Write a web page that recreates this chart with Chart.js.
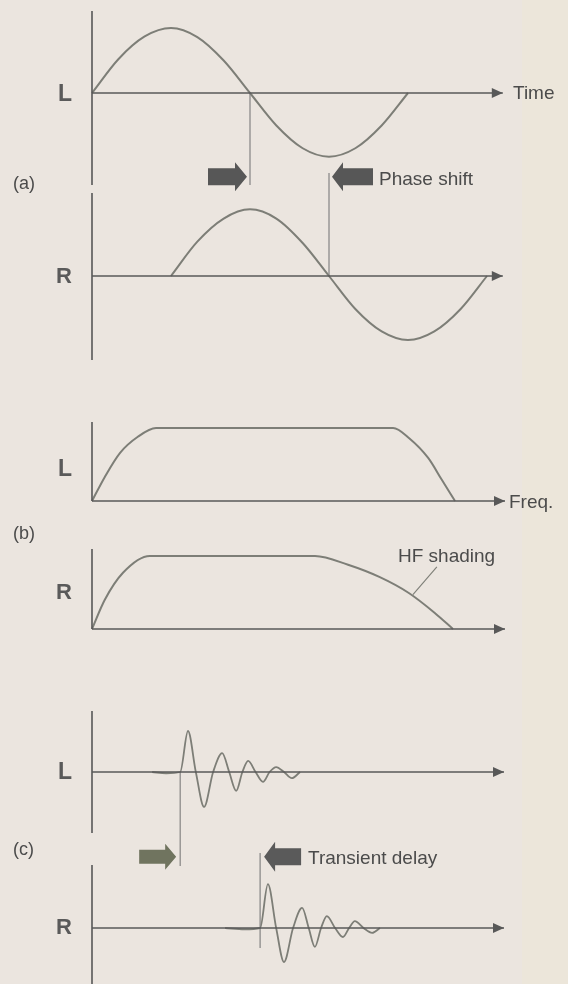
<!DOCTYPE html>
<html>
<head>
<meta charset="utf-8">
<script src="https://cdn.jsdelivr.net/npm/chart.js@4.4.1/dist/chart.umd.min.js"></script>
<style>
    html, body { margin: 0; padding: 0; }
    body {
        width: 568px; height: 984px; position: relative; overflow: hidden;
        background: #ebe5df;
        font-family: "Liberation Sans", Arial, sans-serif;
    }
    #strip { position: absolute; left: 522px; top: 0; width: 46px; height: 984px; background: #ece6da; }
    canvas { position: absolute; left: 0; }
    .lbl { position: absolute; white-space: nowrap; color: #4b4b4b; line-height: 1; }
</style>
</head>
<body>
<div id="strip"></div>
<script>
// (a) phase shift: x in degrees, y = relative amplitude
const phaseDegL = [0, 30, 60, 90, 120, 150, 180, 210, 240, 270, 300, 330, 360];
const phaseAmpL = [0, 0.52, 0.87, 1.0, 0.86, 0.5, 0, -0.5, -0.85, -0.98, -0.85, -0.5, 0];
const phaseDegR = [90, 120, 150, 180, 210, 240, 270, 300, 330, 360, 390, 420, 450];
const phaseAmpR = [0, 0.52, 0.87, 1.01, 0.87, 0.5, 0, -0.5, -0.84, -0.97, -0.84, -0.5, 0];
const phaseMarkers = [180, 270];   // zero crossing of L, of R
const timeAxisEnd = 468;

// (b) frequency response: x in % of the band, y = relative level
const freqL = [0, 3.1, 6.8, 11.1, 15.5, 72.9, 76.8, 81.4, 84.7, 87.9];
const levelL = [0, 0.33, 0.66, 0.88, 1, 1, 0.86, 0.59, 0.29, 0];
const freqR = [0, 3.1, 7.5, 14, 54, 62, 69.7, 76.8, 83, 87.4];
const levelR = [0, 0.4, 0.77, 1, 1, 0.88, 0.71, 0.49, 0.22, 0];
const freqAxisEnd = 100;

// (c) transient: x = time, y = relative amplitude
const timeL = [14.6, 18, 21.4, 23.3, 25.2, 27.2, 29.4, 31.6, 33.3, 35, 36.5, 37.9, 39.7, 41.5, 43.1, 44.7, 46.6, 48.5, 50.5];
const ringL = [0, -0.03, 0, 1, 0, -0.85, 0, 0.46, 0, -0.46, 0, 0.27, 0, -0.24, 0, 0.12, 0, -0.15, 0];
const timeR = [32.3, 37, 40.8, 42.7, 44.7, 46.6, 48.8, 51, 52.6, 54.1, 55.6, 57, 59, 60.9, 62.4, 63.8, 65.9, 68, 69.9];
const ringR = [0, -0.03, 0, 1.07, 0, -0.83, 0, 0.49, 0, -0.46, 0, 0.29, 0, -0.22, 0, 0.17, 0, -0.12, 0];
const transientMarkers = [21.4, 40.8];  // onset of L, of R
const transientAxisEnd = 100;

const AXIS = '#585858';
const CURVE = '#7d7e77';
const MARK = '#7b7b7b';

function pts(xs, ys) {
    return xs.map((x, i) => ({ x: x, y: ys[i] }));
}

function line(data, color, width, smooth) {
    return {
        data: data,
        borderColor: color,
        borderWidth: width,
        pointRadius: 0,
        fill: false,
        clip: false,
        tension: 0,
        cubicInterpolationMode: smooth ? 'monotone' : 'default'
    };
}

// arrowhead on the baseline + block arrows next to the markers
const decor = {
    id: 'decor',
    afterDatasetsDraw(chart, args, opts) {
        const ctx = chart.ctx;
        const xs = chart.scales.x, ys = chart.scales.y;
        ctx.save();
        if (opts.arrowEnd != null) {
            const tx = xs.getPixelForValue(opts.arrowEnd), ty = ys.getPixelForValue(0);
            ctx.fillStyle = AXIS;
            ctx.beginPath();
            ctx.moveTo(tx, ty);
            ctx.lineTo(tx - 11, ty - 5);
            ctx.lineTo(tx - 11, ty + 5);
            ctx.closePath();
            ctx.fill();
        }
        (opts.blocks || []).forEach(b => {
            const s = b.dir === 'right' ? 1 : -1;
            const tip = xs.getPixelForValue(b.at) - s * b.gap;
            const cy = ys.getPixelForValue(b.y);
            const h = tip - s * b.head, e = h - s * b.body;
            ctx.fillStyle = b.color;
            ctx.beginPath();
            ctx.moveTo(tip, cy);
            ctx.lineTo(h, cy - b.hh);
            ctx.lineTo(h, cy - b.bh);
            ctx.lineTo(e, cy - b.bh);
            ctx.lineTo(e, cy + b.bh);
            ctx.lineTo(h, cy + b.bh);
            ctx.lineTo(h, cy + b.hh);
            ctx.closePath();
            ctx.fill();
        });
        ctx.restore();
    }
};

// one L or R panel; x = 0 sits on the vertical axis at 92px
function panel(cfg) {
    const c = document.createElement('canvas');
    c.width = 568;
    c.height = cfg.h;
    c.style.top = cfg.top + 'px';
    document.body.appendChild(c);

    new Chart(c, {
        type: 'line',
        data: { datasets: cfg.datasets },
        options: {
            responsive: false,
            animation: false,
            devicePixelRatio: 1,
            layout: { padding: 0 },
            scales: {
                x: { type: 'linear', display: false, min: -92 / cfg.ppx, max: (568 - 92) / cfg.ppx },
                y: { type: 'linear', display: false,
                     min: -(cfg.top + cfg.h - cfg.base) / cfg.ppy, max: (cfg.base - cfg.top) / cfg.ppy }
            },
            plugins: { legend: { display: false }, tooltip: { enabled: false }, decor: cfg.decor || {} },
            events: []
        },
        plugins: [decor]
    });
}

function axes(yTop, yBottom, xEnd) {
    return [
        line([{ x: 0, y: yTop }, { x: 0, y: yBottom }], AXIS, 1.6, false),
        line([{ x: 0, y: 0 }, { x: xEnd, y: 0 }], AXIS, 1.6, false)
    ];
}

function marker(x, y1, y2) {
    return line([{ x: x, y: y1 }, { x: x, y: y2 }], MARK, 1.1, false);
}

// ---- (a) ----
const degPx = 158 / 180;
panel({
    top: 0, h: 200, base: 93, ppx: degPx, ppy: 65,
    datasets: [
        ...axes(1.262, -1.415, timeAxisEnd),
        marker(phaseMarkers[0], 0, -1.415),
        line(pts(phaseDegL, phaseAmpL), CURVE, 2, true)
    ],
    decor: {
        arrowEnd: timeAxisEnd,
        blocks: [
            { at: phaseMarkers[0], dir: 'right', gap: 3, head: 12, body: 27, bh: 8.5, hh: 14.5, y: -1.29, color: '#575757' },
            { at: phaseMarkers[1], dir: 'left', gap: 3, head: 11, body: 30, bh: 8.5, hh: 14.5, y: -1.29, color: '#575757' }
        ]
    }
});
panel({
    top: 160, h: 210, base: 276, ppx: degPx, ppy: 66,
    datasets: [
        ...axes(1.258, -1.273, timeAxisEnd),
        marker(phaseMarkers[1], 1.56, 0),
        line(pts(phaseDegR, phaseAmpR), CURVE, 2, true)
    ],
    decor: { arrowEnd: timeAxisEnd }
});

// ---- (b) ----
const freqPx = (505 - 92) / 100;
panel({
    top: 400, h: 120, base: 501, ppx: freqPx, ppy: 73,
    datasets: [
        ...axes(1.082, 0, freqAxisEnd),
        line(pts(freqL, levelL), CURVE, 2, true)
    ],
    decor: { arrowEnd: freqAxisEnd }
});
panel({
    top: 530, h: 120, base: 629, ppx: freqPx, ppy: 73,
    datasets: [
        ...axes(1.096, 0, freqAxisEnd),
        line(pts(freqR, levelR), CURVE, 2, true),
        line([{ x: 83.5, y: 0.85 }, { x: 77.7, y: 0.47 }], '#7d7e77', 1.1, false)
    ],
    decor: { arrowEnd: freqAxisEnd }
});

// ---- (c) ----
const tPx = (504 - 92) / 100;
panel({
    top: 690, h: 190, base: 772, ppx: tPx, ppy: 41,
    datasets: [
        ...axes(1.488, -1.488, transientAxisEnd),
        marker(transientMarkers[0], 0, -2.29),
        line(pts(timeL, ringL), CURVE, 1.8, true)
    ],
    decor: {
        arrowEnd: transientAxisEnd,
        blocks: [
            { at: transientMarkers[0], dir: 'right', gap: 4, head: 11, body: 26, bh: 7, hh: 13, y: -2.07, color: '#70745f' },
            { at: transientMarkers[1], dir: 'left', gap: 4, head: 11, body: 26, bh: 8.5, hh: 15, y: -2.07, color: '#5a5a5a' }
        ]
    }
});
panel({
    top: 840, h: 144, base: 928, ppx: tPx, ppy: 41,
    datasets: [
        ...axes(1.537, -1.4, transientAxisEnd),
        marker(transientMarkers[1], 1.83, -0.49),
        line(pts(timeR, ringR), CURVE, 1.8, true)
    ],
    decor: { arrowEnd: transientAxisEnd }
});

// ---- text ----
function label(text, x, cy, size, bold, color) {
    const d = document.createElement('div');
    d.className = 'lbl';
    d.textContent = text;
    d.style.left = x + 'px';
    d.style.top = (cy - size * 0.5) + 'px';
    d.style.fontSize = size + 'px';
    if (bold) d.style.fontWeight = 'bold';
    if (color) d.style.color = color;
    document.body.appendChild(d);
}

label('L', 58, 93, 23, true, '#5a5a5a');
label('R', 56, 276, 22, true, '#5a5a5a');
label('L', 58, 468, 23, true, '#5a5a5a');
label('R', 56, 592, 22, true, '#5a5a5a');
label('L', 58, 771, 23, true, '#5a5a5a');
label('R', 56, 927, 22, true, '#5a5a5a');

label('(a)', 13, 183, 18);
label('(b)', 13, 533, 18);
label('(c)', 13, 849, 18);

label('Time', 513, 92, 19);
label('Phase shift', 379, 178, 19);
label('Freq.', 509, 501, 19);
label('HF shading', 398, 555, 19);
label('Transient delay', 308, 857, 19);
</script>
</body>
</html>
